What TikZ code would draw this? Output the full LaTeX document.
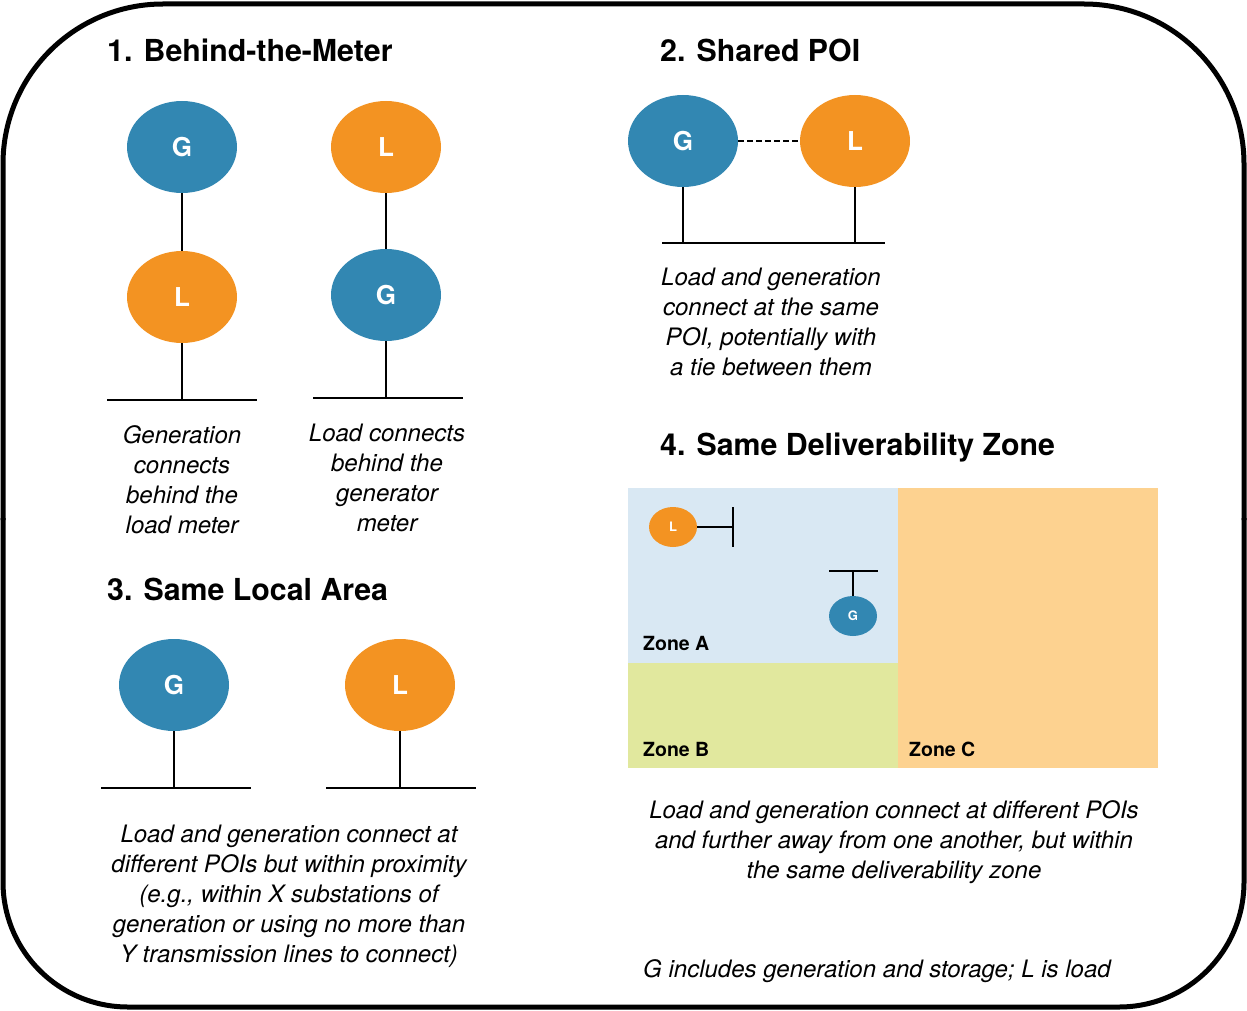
\documentclass[tikz,border=0pt]{standalone}
\usepackage{fontspec}
\setmainfont{TeX Gyre Heros}
\usetikzlibrary{shapes.geometric}
\definecolor{gblue}{RGB}{50,135,178}
\definecolor{lorange}{RGB}{243,147,34}
\definecolor{zonea}{RGB}{217,232,243}
\definecolor{zoneb}{RGB}{225,232,158}
\definecolor{zonec}{RGB}{253,210,144}
\begin{document}
\begin{tikzpicture}[x=1pt,y=-1pt,
  bubble/.style={ellipse,minimum width=110pt,minimum height=92pt,inner sep=0pt,
    text=white,font=\fontsize{26}{30}\selectfont\bfseries},
  gen/.style={bubble,fill=gblue},
  lod/.style={bubble,fill=lorange},
  smallbubble/.style={minimum width=48pt,minimum height=40pt,font=\fontsize{13}{15}\selectfont\bfseries},
  wire/.style={line width=2.8pt,line cap=butt},
  title/.style={anchor=base west,inner sep=0pt,font=\fontsize{30.3}{34}\selectfont\bfseries},
  caption/.style={align=center,inner sep=0pt,font=\fontsize{24}{30}\selectfont\itshape},
  zonelabel/.style={anchor=base west,inner sep=0pt,font=\fontsize{19.5}{22}\selectfont\bfseries}]
\useasboundingbox (0,0) rectangle (1247,1011);

% outer frame: larger radius on the top corners
\draw[line width=5pt,rounded corners=160pt] (3,520) -- (3,4) -- (1244,4) -- (1244,520);
\draw[line width=5pt,rounded corners=125pt] (1244,518) -- (1244,1007) -- (3,1007) -- (3,518);

% ---------- 1. Behind-the-Meter ----------
\node[title] (t1) at (107,62) {1. Behind-the-Meter};
\node[gen] (g1a) at (182,147) {G};
\node[lod] (l1a) at (182,297) {L};
\coordinate (b1a) at (182,400);
\coordinate (b1al) at (107,400);
\coordinate (b1ar) at (257,400);
\draw[wire] (g1a.south) -- (l1a.north);
\draw[wire] (l1a.south) -- (b1a);
\draw[wire] (b1al) -- (b1ar);
\node[caption] (c1a) at (182,480) {Generation\\connects\\behind the\\load meter};

\node[lod] (l1b) at (386,147) {L};
\node[gen] (g1b) at (386,295) {G};
\coordinate (b1b) at (386,398);
\coordinate (b1bl) at (313,398);
\coordinate (b1br) at (463,398);
\draw[wire] (l1b.south) -- (g1b.north);
\draw[wire] (g1b.south) -- (b1b);
\draw[wire] (b1bl) -- (b1br);
\node[caption] (c1b) at (387,478) {Load connects\\behind the\\generator\\meter};

% ---------- 2. Shared POI ----------
\node[title] (t2) at (660,62) {2. Shared POI};
\node[gen] (g2) at (683,141) {G};
\node[lod] (l2) at (855,141) {L};
\draw[wire,dashed,dash pattern=on 6pt off 3pt,line width=2pt] (g2.east) -- (l2.west);
\coordinate (b2g) at (683,243);
\coordinate (b2l) at (855,243);
\coordinate (b2left) at (662,243);
\coordinate (b2right) at (885,243);
\draw[wire] (g2.south) -- (b2g);
\draw[wire] (l2.south) -- (b2l);
\draw[wire] (b2left) -- (b2right);
\node[caption] (c2) at (771,322) {Load and generation\\connect at the same\\POI, potentially with\\a tie between them};

% ---------- 3. Same Local Area ----------
\node[title] (t3) at (107,600) {3. Same Local Area};
\node[gen] (g3) at (174,685) {G};
\node[lod] (l3) at (400,685) {L};
\coordinate (b3g) at (174,788);
\coordinate (b3l) at (400,788);
\draw[wire] (g3.south) -- (b3g);
\draw[wire] (l3.south) -- (b3l);
\coordinate (b3gl) at (101,788);
\coordinate (b3gr) at (251,788);
\coordinate (b3ll) at (326,788);
\coordinate (b3lr) at (476,788);
\draw[wire] (b3gl) -- (b3gr);
\draw[wire] (b3ll) -- (b3lr);
\node[caption] (c3) at (289,896) {Load and generation connect at\\different POIs but within proximity\\(e.g., within X substations of\\generation or using no more than\\Y transmission lines to connect)};

% ---------- 4. Same Deliverability Zone ----------
\node[title] (t4) at (660,455) {4. Same Deliverability Zone};
\fill[zonea] (628,488) rectangle (898,663);
\fill[zoneb] (628,663) rectangle (898,768);
\fill[zonec] (898,488) rectangle (1158,768);
\node[zonelabel] (za) at (643,650) {Zone A};
\node[zonelabel] (zb) at (643,756) {Zone B};
\node[zonelabel] (zc) at (909,756) {Zone C};

\node[lod,smallbubble] (l4) at (673,527) {L};
\coordinate (p4l) at (733,527);
\coordinate (p4lt) at (733,507);
\coordinate (p4lb) at (733,547);
\draw[wire] (l4.east) -- (p4l);
\draw[wire] (p4lt) -- (p4lb);

\node[gen,smallbubble] (g4) at (853,616) {G};
\coordinate (p4g) at (853,571);
\coordinate (p4gl) at (829,571);
\coordinate (p4gr) at (878,571);
\draw[wire] (g4.north) -- (p4g);
\draw[wire] (p4gl) -- (p4gr);

\node[caption] (c4) at (894,842) {Load and generation connect at different POIs\\and further away from one another, but within\\the same deliverability zone};

\node[caption] (note) at (877,971) {G includes generation and storage; L is load};
\end{tikzpicture}
\end{document}
